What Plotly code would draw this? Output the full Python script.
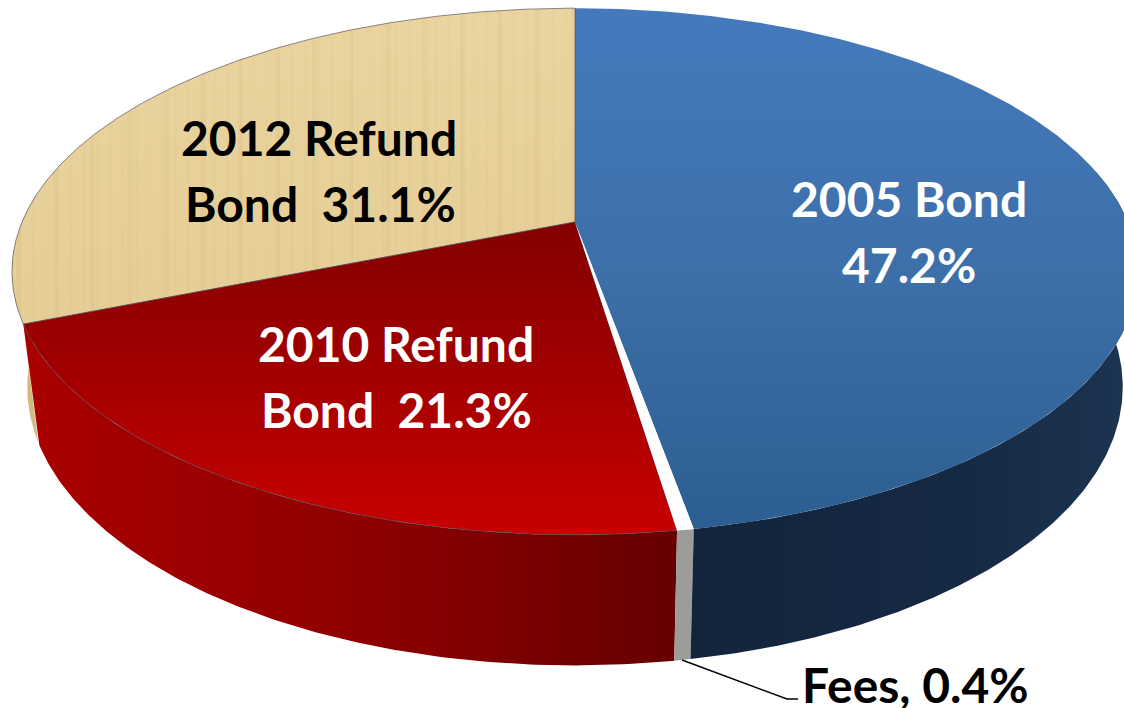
import math
import plotly.graph_objects as go

# ---- data ----
categories = ["2005 Bond", "Fees", "2010 Refund Bond", "2012 Refund Bond"]
values = [47.2, 0.4, 21.3, 31.1]

label_lines = [
    ("2005 Bond", 909, 198, "white"),
    ("47.2%", 909, 264, "white"),
    ("2012 Refund", 319, 137, "black"),
    ("Bond\u00a0\u00a031.1%", 320, 203, "black"),
    ("2010 Refund", 396, 343, "white"),
    ("Bond\u00a0\u00a021.3%", 396, 409, "white"),
    ("Fees, 0.4%", 915, 684, "black"),
]

top_grad = [
    [[0, "#447abd"], [0.5, "#3d6fa9"], [1, "#2d5e92"]],
    [[0, "#ffffff"], [1, "#ffffff"]],
    [[0, "#840000"], [0.45, "#a00000"], [1, "#c80000"]],
    [[0, "#ebd5a0"], [0.5, "#e8d19b"], [1, "#e6ce96"]],
]
wall_grad = [
    [[0, "#13243c"], [0.6, "#162943"], [1, "#1c3452"]],
    [[0, "#9c9c9a"], [1, "#9c9c9a"]],
    [[0, "#aa0000"], [0.5, "#900000"], [1, "#660000"]],
    [[0, "#cdb07a"], [1, "#e2c893"]],
]

# ---- tilted disc projection ----
K = 0.188
TOP = dict(ax=575, ay=222, a=553, b=254)
BOTTOM = dict(ax=575, ay=334.6, a=538, b=268.6)


def project(deg, p):
    t = math.radians(deg)
    X, Y = math.sin(t), math.cos(t)
    w = 1 + K * Y
    return p["ax"] + p["a"] * X / w, p["ay"] - p["b"] * Y / w


def arc(d0, d1, p):
    n = max(2, int(abs(d1 - d0) * 2))
    pts = [project(d0 + (d1 - d0) * i / n, p) for i in range(n + 1)]
    return [q[0] for q in pts], [q[1] for q in pts]


starts = []
acc = 0.0
for v in values:
    starts.append(acc)
    acc += v
total = sum(values)
angles = [(s / total * 360, (s + v) / total * 360) for s, v in zip(starts, values)]

# visible part of each side wall (the rest sits behind the top face)
wall_ranges = [
    (max(angles[0][0], 78), angles[0][1]),
    angles[1],
    angles[2],
    (angles[3][0], min(angles[3][1], 282)),
]

fig = go.Figure()


def poly(xs, ys, scale, kind, name, line=None):
    lo, hi = (min(xs), max(xs)) if kind == "horizontal" else (min(ys), max(ys))
    fig.add_trace(go.Scatter(
        x=xs, y=ys, mode="lines", fill="toself", name=name,
        fillgradient=dict(type=kind, colorscale=scale, start=lo, stop=hi),
        line=line or dict(width=0),
        hoverinfo="name", showlegend=False,
    ))


for i in [3, 2, 1, 0]:
    d0, d1 = wall_ranges[i]
    xt, yt = arc(d0, d1, TOP)
    xb, yb = arc(d1, d0, BOTTOM)
    poly(xt + xb + xt[:1], yt + yb + yt[:1], wall_grad[i], "horizontal", categories[i])

edge = dict(width=1, color="rgba(75,75,90,0.65)")
for i in [0, 3, 2, 1]:
    d0, d1 = angles[i]
    xa, ya = arc(d0, d1, TOP)
    xs = [TOP["ax"]] + xa + [TOP["ax"]]
    ys = [TOP["ay"]] + ya + [TOP["ay"]]
    poly(xs, ys, top_grad[i], "vertical", categories[i], line=edge if i >= 2 else None)
    if i == 3:
        # wood grain of the 2012 slice
        for shape, size, sol, op in (("|", 37, 0.12, 0.09), ("|", 13, 0.2, 0.06), ("-", 4, 0.25, 0.07)):
            fig.add_trace(go.Scatter(
                x=xs, y=ys, mode="lines", fill="toself", name=categories[i],
                fillcolor="rgba(0,0,0,0)", line=dict(width=0),
                fillpattern=dict(shape=shape, size=size, solidity=sol,
                                 fgcolor="#b89a5c", fgopacity=op,
                                 bgcolor="rgba(0,0,0,0)"),
                hoverinfo="skip", showlegend=False,
            ))

fig.add_trace(go.Scatter(
    x=[682, 787, 798], y=[660, 699, 699], mode="lines",
    line=dict(color="black", width=1.5), hoverinfo="skip", showlegend=False,
))

for text, x, y, color in label_lines:
    fig.add_annotation(
        x=x, y=y, text=text, showarrow=False, xanchor="center", yanchor="middle",
        font=dict(family="Lato, 'Open Sans', sans-serif", size=48, color=color, weight="bold"),
    )

fig.update_xaxes(range=[0, 1124], visible=False, fixedrange=True)
fig.update_yaxes(range=[708, 0], visible=False, fixedrange=True)
fig.update_layout(
    width=1124, height=708, margin=dict(l=0, r=0, t=0, b=0),
    paper_bgcolor="white", plot_bgcolor="white", showlegend=False,
)
fig.write_html(
    "out.html",
    config={"displayModeBar": False},
    post_script="document.body.style.margin='0';document.body.style.overflow='hidden';",
)
